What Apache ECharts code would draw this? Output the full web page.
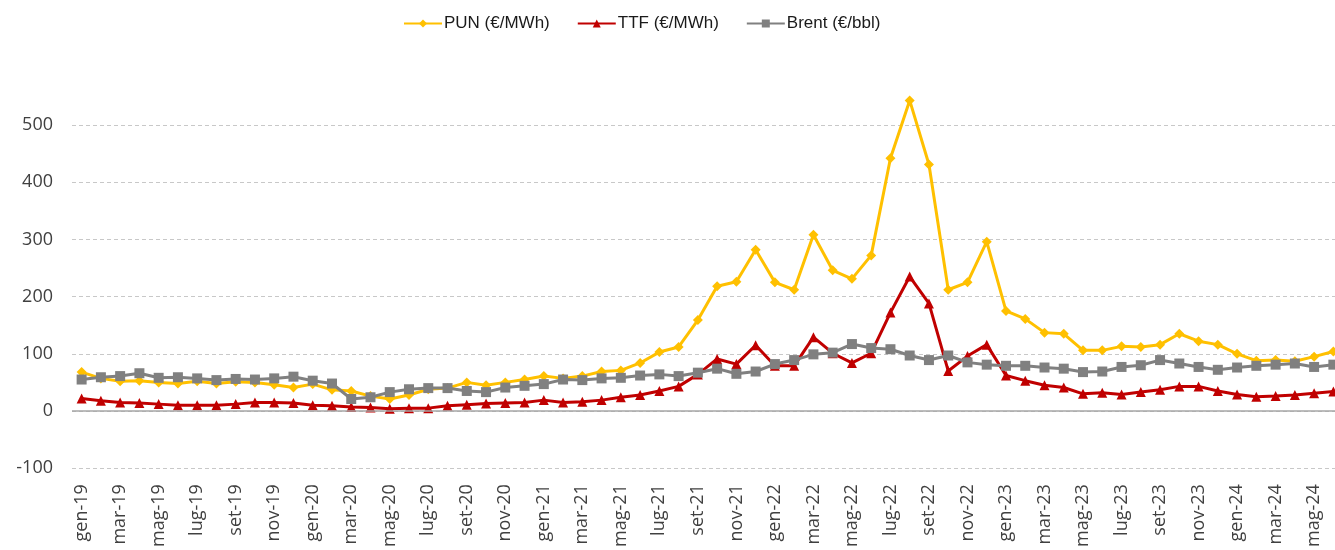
<!DOCTYPE html>
<html>
    <head>
        <meta charset="UTF-8">
        <script src="https://cdn.jsdelivr.net/npm/echarts@6/dist/echarts.min.js"></script>
    </head>
    <body style="margin:0;overflow:hidden">
        <!-- the plot runs a few px past the right edge, like the original -->
        <div id="main" style="width:1343px;height:550px"></div>
        <script type="text/javascript">
            // monthly categories, gen-19 .. giu-24
            var categories = [
                'gen-19','feb-19','mar-19','apr-19','mag-19','giu-19','lug-19','ago-19','set-19','ott-19','nov-19','dic-19',
                'gen-20','feb-20','mar-20','apr-20','mag-20','giu-20','lug-20','ago-20','set-20','ott-20','nov-20','dic-20',
                'gen-21','feb-21','mar-21','apr-21','mag-21','giu-21','lug-21','ago-21','set-21','ott-21','nov-21','dic-21',
                'gen-22','feb-22','mar-22','apr-22','mag-22','giu-22','lug-22','ago-22','set-22','ott-22','nov-22','dic-22',
                'gen-23','feb-23','mar-23','apr-23','mag-23','giu-23','lug-23','ago-23','set-23','ott-23','nov-23','dic-23',
                'gen-24','feb-24','mar-24','apr-24','mag-24','giu-24'
            ];

            var pun = [
                68, 57, 52, 53, 50, 48, 52, 48, 51, 50, 46, 41,
                47, 37, 35, 26, 21, 28, 38, 40, 50, 45, 50, 55,
                61, 57, 61, 69, 71, 84, 103, 112, 159, 218, 226, 282,
                225, 212, 308, 246, 231, 272, 442, 543, 431, 212, 225, 296,
                175, 161, 137, 135, 106, 106, 113, 112, 116, 135, 122, 116,
                100, 88, 89, 87, 95, 104
            ];

            var ttf = [
                22, 18, 15, 14, 12, 10, 10, 10, 12, 15, 15, 14,
                10, 9, 7, 6, 4, 5, 5, 9, 11, 13, 14, 15,
                19, 15, 16, 19, 24, 28, 35, 43, 64, 91, 82, 115,
                79, 79, 129, 101, 84, 101, 172, 235, 188, 70, 96, 116,
                62, 53, 45, 41, 30, 32, 29, 33, 37, 43, 43, 35,
                29, 25, 26, 28, 31, 34
            ];

            var brent = [
                55, 59, 61, 66, 58, 59, 57, 54, 56, 55, 57, 60,
                53, 48, 21, 24, 33, 38, 40, 40, 35, 33, 41, 44,
                47, 55, 54, 57, 58, 62, 64, 61, 67, 74, 65, 69,
                82, 89, 99, 102, 117, 110, 108, 97, 89, 97, 85, 81,
                79, 79, 76, 74, 68, 69, 77, 80, 89, 83, 77, 72,
                76, 79, 81, 83, 77, 81
            ];

            var yTicks = { min: -100, max: 500, step: 100 };

            var chartDom = document.getElementById('main');
            var myChart = echarts.init(chartDom);

            var option = {
                animation: false,
                backgroundColor: '#ffffff',
                legend: {
                    top: 10,
                    left: 398,
                    itemWidth: 38,
                    itemHeight: 10,
                    itemGap: 27,
                    textStyle: {
                        fontFamily: 'Liberation Sans',
                        fontSize: 17,
                        color: '#1a1a1a',
                        padding: [0, 0, 0, -3]
                    },
                    data: ['PUN (€/MWh)', 'TTF (€/MWh)', 'Brent (€/bbl)']
                },
                grid: {
                    left: 72,
                    right: 0,
                    top: 125,
                    height: 345,
                    containLabel: false
                },
                xAxis: {
                    type: 'category',
                    data: categories,
                    boundaryGap: true,
                    axisLine: { show: false, onZero: false },
                    axisTick: { show: false },
                    axisLabel: {
                        interval: 1,
                        rotate: 90,
                        margin: 16,
                        fontFamily: 'Open Sans',
                        fontSize: 18,
                        color: '#404040'
                    }
                },
                yAxis: {
                    type: 'value',
                    min: yTicks.min,
                    max: yTicks.max,
                    interval: yTicks.step,
                    axisLine: { show: false },
                    axisTick: { show: false },
                    axisLabel: {
                        margin: 19,
                        fontFamily: 'Open Sans',
                        fontSize: 18,
                        color: '#404040'
                    },
                    splitLine: {
                        lineStyle: { color: '#c8c8c8', type: [4, 3], width: 1 }
                    }
                },
                series: [
                    {
                        name: 'PUN (€/MWh)',
                        type: 'line',
                        data: pun,
                        clip: false,
                        z: 2,
                        symbol: 'diamond',
                        symbolSize: 10,
                        lineStyle: { color: '#ffc000', width: 3 },
                        itemStyle: { color: '#ffc000' },
                        markLine: {
                            silent: true,
                            symbol: 'none',
                            label: { show: false },
                            lineStyle: { color: '#a6a6a6', type: 'solid', width: 1.5 },
                            data: [{ yAxis: 0 }]
                        }
                    },
                    {
                        name: 'TTF (€/MWh)',
                        type: 'line',
                        data: ttf,
                        clip: false,
                        z: 3,
                        symbol: 'triangle',
                        symbolSize: 10,
                        lineStyle: { color: '#c00000', width: 3 },
                        itemStyle: { color: '#c00000' }
                    },
                    {
                        name: 'Brent (€/bbl)',
                        type: 'line',
                        data: brent,
                        clip: false,
                        z: 4,
                        symbol: 'rect',
                        symbolSize: 10,
                        lineStyle: { color: '#808080', width: 3 },
                        itemStyle: { color: '#808080' }
                    }
                ]
            };

            option && myChart.setOption(option);
        </script>
    </body>
</html>
